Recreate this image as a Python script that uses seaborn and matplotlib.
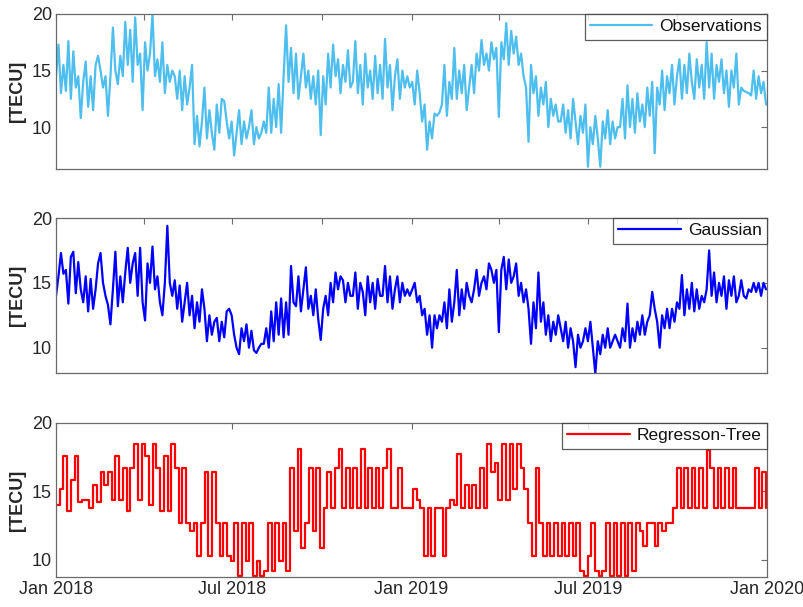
import matplotlib
matplotlib.use("Agg")
import pandas as pd
import matplotlib.pyplot as plt
import matplotlib.dates as mdates
import seaborn as sns

# TEC, one row per month (Jan 2018 - Dec 2019)
observations = [
    14.5, 17.3, 13.0, 15.5, 13.2, 17.6, 12.5, 16.7, 13.5, 14.5, 10.8, 14.0,
    15.8, 11.8, 14.5, 11.5, 15.5, 16.3, 15.0, 13.5, 14.5, 11.0, 14.5, 18.8,
    15.0, 13.8, 16.3, 14.5, 19.3, 15.5, 18.6, 14.0, 19.7, 15.5, 16.5, 11.5,
    17.5, 15.0, 16.5, 20.0, 14.5, 16.0, 14.0, 17.5, 13.0, 15.5, 14.0, 15.0,
    14.5, 12.5, 15.0, 11.5, 14.5, 12.0, 13.5, 15.5, 8.5, 11.0, 8.3, 10.5,
    13.5, 9.0, 11.5, 9.5, 8.0, 12.0, 9.5, 12.5, 12.3, 10.5, 9.0, 10.5,
    7.5, 9.5, 11.5, 8.5, 10.5, 9.0, 10.0, 11.5, 8.5, 10.0, 9.0, 9.5,
    10.5, 9.5, 13.5, 9.5, 12.5, 10.0, 13.8, 9.5, 14.5, 19.0, 14.0, 17.0,
    13.0, 16.5, 12.5, 14.5, 16.5, 13.5, 15.0, 12.5, 14.5, 12.0, 15.0, 9.3,
    14.5, 12.0, 16.5, 13.5, 17.3, 14.5, 16.0, 13.0, 15.5, 14.0, 16.8, 13.5,
    14.0, 17.6, 13.0, 15.5, 12.0, 16.5, 13.5, 15.0, 12.5, 16.3, 13.0, 15.5,
    12.5, 17.8, 13.5, 15.5, 11.5, 14.5, 16.0, 12.5, 15.0, 13.5, 14.5, 13.5,
    14.0, 12.0, 15.0, 13.0, 10.5, 12.0, 8.0, 10.5, 9.0, 11.2, 11.0, 11.3,
    12.0, 15.5, 11.0, 14.0, 12.5, 17.0, 12.5, 15.0, 13.0, 15.5, 11.5, 13.5,
    15.5, 13.0, 16.5, 15.0, 17.7, 15.5, 16.5, 15.0, 17.5, 16.0, 17.0, 10.9,
    17.5, 16.0, 19.2, 15.5, 18.5, 16.5, 18.0, 15.5, 16.5, 14.5, 13.5, 8.7,
    15.5, 13.0, 14.5, 11.0, 13.5, 12.0, 14.0, 10.0, 12.5, 11.0, 12.0, 10.5,
    10.5, 12.0, 9.5, 11.5, 9.0, 12.5, 10.5, 8.5, 11.0, 9.5, 12.0, 6.5,
    10.0, 8.5, 11.0, 9.0, 6.5, 10.5, 9.0, 11.5, 8.5, 10.5, 9.0, 10.0,
    10.0, 12.5, 9.0, 13.7, 10.0, 12.5, 9.5, 13.0, 10.5, 12.0, 10.0, 13.5,
    11.0, 14.0, 7.7, 13.5, 12.0, 15.0, 11.5, 14.5, 13.0, 15.5, 12.0, 14.5,
    16.0, 12.5, 15.5, 13.0, 16.5, 14.0, 12.5, 16.0, 13.5, 15.5, 12.5, 17.5,
    13.5, 16.5, 12.5, 15.5, 14.0, 16.0, 13.0, 15.0, 11.8, 15.0, 13.5, 16.5,
    12.0, 13.5, 13.2, 13.1, 13.0, 12.8, 15.0, 12.5, 14.5, 13.0, 14.0, 12.0,
]

gaussian = [
    14.0, 15.5, 17.3, 15.7, 16.0, 13.4, 17.0, 17.4, 14.2, 16.6, 14.5, 13.5,
    15.5, 12.8, 15.3, 13.0, 14.5, 16.5, 17.3, 15.0, 14.0, 13.3, 11.8, 14.5,
    17.4, 13.2, 15.5, 13.5, 15.8, 17.7, 15.0, 16.5, 17.3, 14.0, 17.7, 13.5,
    12.1, 16.5, 15.0, 17.8, 14.5, 15.5, 13.5, 12.5, 15.0, 19.4, 15.0, 14.0,
    15.2, 13.0, 14.8, 12.0, 13.5, 15.0, 12.5, 14.0, 11.5, 13.5, 12.0, 14.5,
    13.0, 10.5, 12.5, 11.0, 12.0, 12.3, 10.5, 12.0, 10.8, 12.8, 13.0, 12.5,
    11.0, 10.0, 9.5, 11.5, 10.5, 11.8, 10.0, 11.3, 9.8, 9.6, 10.0, 10.3,
    10.3, 11.5, 10.0, 12.8, 10.5, 13.5, 11.0, 13.8, 10.8, 13.5, 11.0, 16.3,
    13.5, 13.2, 15.5, 12.8, 14.5, 16.2, 13.0, 14.0, 12.5, 14.5, 12.2, 10.6,
    13.0, 14.0, 12.5, 15.0, 13.5, 15.8, 14.5, 15.5, 15.2, 13.5, 15.0, 14.0,
    14.0, 15.8, 13.0, 15.0, 14.3, 12.5, 15.5, 13.5, 15.0, 13.0, 15.3, 14.0,
    14.0, 16.3, 13.5, 15.5, 13.0, 14.5, 15.5, 13.5, 15.0, 14.0, 14.5, 14.0,
    14.5, 15.0, 13.5, 14.0, 12.5, 13.0, 11.0, 12.5, 10.0, 12.5, 11.5, 12.5,
    12.0, 13.5, 11.5, 14.5, 12.0, 13.5, 16.0, 12.5, 14.5, 13.0, 15.0, 14.0,
    13.5, 14.5, 16.0, 14.0, 15.0, 15.5, 14.5, 16.5, 16.0, 15.0, 16.0, 11.2,
    16.0, 17.0, 14.5, 16.8, 15.0, 15.5, 16.5, 14.0, 15.0, 13.5, 14.5, 13.0,
    10.3, 13.5, 11.5, 15.8, 12.0, 13.5, 11.0, 12.5, 10.5, 12.0, 11.0, 12.5,
    11.5, 10.5, 12.0, 10.0, 11.5, 10.5, 8.5, 11.0, 10.0, 10.5, 11.5, 10.5,
    12.0, 10.0, 8.0, 10.5, 9.5, 11.0, 10.0, 11.5, 10.0, 10.5, 11.0, 10.5,
    10.0, 11.5, 10.5, 13.4, 10.0, 11.5, 10.5, 12.0, 11.0, 12.5, 11.0, 12.0,
    12.5, 14.3, 13.0, 12.0, 10.0, 12.5, 11.5, 13.0, 11.5, 13.0, 12.0, 13.5,
    13.0, 15.6, 12.5, 14.5, 13.0, 15.0, 12.8, 14.5, 13.0, 14.0, 13.5, 14.5,
    17.5, 14.0, 15.8, 13.5, 15.0, 14.0, 15.5, 13.0, 15.2, 14.0, 15.5, 13.5,
    14.0, 15.2, 14.0, 13.8, 14.5, 14.3, 15.0, 14.3, 15.0, 14.0, 15.0, 14.5,
]

regression_tree = [
    14.0, 15.2, 17.6, 13.6, 15.8, 17.6, 14.2, 14.4,
    14.4, 13.8, 15.5, 14.2, 16.4, 15.5, 16.4, 14.4,
    17.6, 14.4, 16.7, 13.6, 16.7, 18.5, 14.4, 18.5,
    17.6, 14.0, 18.5, 16.7, 13.6, 17.6, 13.6, 18.5,
    16.7, 12.7, 16.7, 12.7, 12.1, 12.7, 10.3, 12.7,
    16.4, 10.3, 16.4, 12.7, 10.3, 12.7, 10.3, 9.9,
    12.7, 8.8, 12.7, 9.9, 12.7, 8.8, 9.9, 8.8,
    9.2, 12.7, 9.2, 12.7, 9.9, 12.7, 9.2, 16.7,
    12.1, 18.1, 10.9, 12.7, 16.7, 12.1, 16.7, 10.9,
    13.8, 16.4, 13.8, 16.7, 18.1, 13.8, 16.7, 13.8,
    16.7, 13.8, 18.1, 13.8, 16.7, 13.8, 16.7, 13.8,
    16.7, 18.1, 13.8, 13.8, 16.7, 13.8, 13.8, 13.8,
    15.2, 14.4, 13.8, 10.3, 13.8, 10.3, 13.8, 13.8,
    10.3, 13.8, 14.4, 14.0, 17.7, 13.8, 15.5, 13.8,
    15.5, 13.8, 16.7, 13.8, 18.5, 16.4, 17.1, 14.4,
    18.5, 14.4, 18.5, 15.2, 18.5, 16.7, 15.2, 12.7,
    10.3, 16.7, 12.7, 10.3, 12.7, 10.3, 12.7, 10.3,
    12.7, 10.3, 12.7, 10.3, 12.7, 9.2, 8.8, 10.3,
    12.7, 9.2, 8.8, 9.2, 12.7, 8.8, 12.7, 8.8,
    12.7, 8.8, 12.7, 9.2, 12.7, 12.1, 11.0, 12.7,
    12.7, 11.0, 12.7, 12.1, 12.7, 12.7, 13.8, 16.7,
    13.8, 16.7, 13.8, 16.7, 13.8, 16.7, 13.8, 18.0,
    16.7, 13.8, 16.7, 13.8, 16.7, 13.8, 16.7, 13.8,
    13.8, 13.8, 13.8, 13.8, 16.7, 13.8, 16.4, 13.8,
]

panels = [
    ("Observations", observations, "#4DBEEE", (6.3, 20), "default"),
    ("Gaussian", gaussian, "#0000FF", (8.05, 20), "default"),
    ("Regresson-Tree", regression_tree, "#FF0000", (8.75, 20), "steps-post"),
]

sns.set_theme(style="white")
plt.rcParams["font.family"] = ["Liberation Sans", "DejaVu Sans"]

W, H = 804, 607
fig = plt.figure(figsize=(W / 100, H / 100), dpi=100)
# axes boxes in pixels: (top, bottom)
boxes = [(14, 169), (218, 373), (423, 577)]
left, right = 56, 767

start, end = pd.Timestamp("2018-01-01"), pd.Timestamp("2020-01-01")
frame_col = "#6a6a6a"

for i, ((name, vals, col, ylim, ds), (top, bot)) in enumerate(zip(panels, boxes)):
    ax = fig.add_axes([left / W, 1 - bot / H, (right - left) / W, (bot - top) / H])
    df = pd.DataFrame({
        "date": pd.date_range(start, "2019-12-31", periods=len(vals)),
        "tec": vals,
    })
    sns.lineplot(data=df, x="date", y="tec", ax=ax, color=col, lw=1.6,
                 label=name, drawstyle=ds)
    ax.set_xlim(start, end)
    ax.set_ylim(*ylim)
    ax.set_yticks([10, 15, 20])
    ax.set_ylabel("[TECU]", fontsize=13, fontweight="bold", color="#262626")
    ax.set_xlabel("")
    if i < 2:
        ax.xaxis.set_major_locator(mdates.MonthLocator(bymonth=[1, 4, 7, 10]))
        ax.set_xticklabels([])
    else:
        ax.xaxis.set_major_locator(mdates.MonthLocator(bymonth=[1, 7]))
        ax.xaxis.set_major_formatter(mdates.DateFormatter("%b %Y"))
    ax.tick_params(direction="in", length=4, width=0.8, color=frame_col,
                   top=True, right=True, labelsize=13, labelcolor="#262626", pad=3)
    for s in ax.spines.values():
        s.set_color(frame_col)
        s.set_linewidth(0.9)
    leg = ax.legend(loc="upper right", borderaxespad=0, fancybox=False,
                    frameon=True, fontsize=12.5, handlelength=3.6,
                    borderpad=0.3, handletextpad=0.4)
    leg.get_frame().set_edgecolor("#333333")
    leg.get_frame().set_linewidth(0.9)
    for t in leg.get_texts():
        t.set_color("#111111")

fig.savefig("out.png", dpi=100)
